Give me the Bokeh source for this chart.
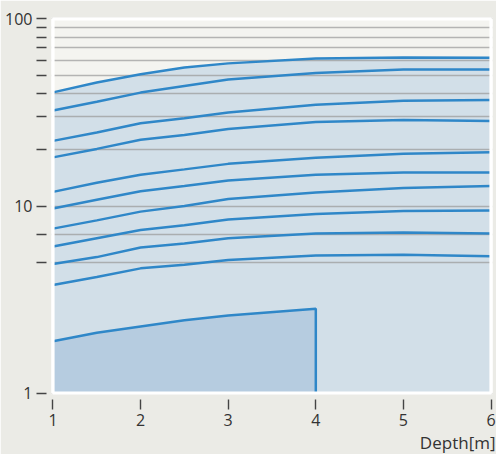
from bokeh.plotting import figure
from bokeh.models import FixedTicker, Title, PrintfTickFormatter, Range1d
from bokeh.embed import file_html
from bokeh.resources import INLINE

# data
depth = [1, 1.5, 2, 2.5, 3, 4, 5, 6]
c1 = [40.5, 45.8, 50.7, 55.0, 57.9, 61.5, 62.3, 62.0]
c2 = [32.4, 36.1, 40.4, 43.8, 47.5, 51.5, 53.7, 53.7]
c3 = [22.3, 24.7, 27.7, 29.5, 31.6, 34.8, 36.5, 36.9]
c4 = [18.2, 20.2, 22.6, 24.0, 25.8, 28.1, 28.8, 28.5]
c5 = [11.9, 13.3, 14.7, 15.7, 16.8, 18.1, 19.0, 19.4]
c6 = [9.7, 10.8, 12.0, 12.8, 13.7, 14.7, 15.1, 15.1]
c7 = [7.57, 8.38, 9.33, 10.0, 10.9, 11.8, 12.5, 12.8]
c8 = [6.07, 6.72, 7.44, 7.9, 8.46, 9.06, 9.4, 9.47]
c9 = [4.89, 5.33, 6.0, 6.3, 6.72, 7.12, 7.21, 7.12]
c10 = [3.78, 4.17, 4.64, 4.85, 5.14, 5.44, 5.48, 5.38]
low_depth = [1, 1.5, 2, 2.5, 3, 4]
low_curve = [1.89, 2.10, 2.27, 2.45, 2.6, 2.82]
low_floor = [1, 1, 1, 1, 1, 1]
curves = [c1, c2, c3, c4, c5, c6, c7, c8, c9, c10]

x_min, x_max = 1, 6
y_min, y_max = 1, 100
y_major = [1, 10, 100]
y_minor = [5, 7, 20, 30, 40, 50, 60, 70, 80, 90]
x_ticks = [1, 2, 3, 4, 5, 6]

FONT = "Open Sans"
TXT = "#333333"
BLUE = "#2f87c8"

p = figure(width=496, height=454, y_axis_type="log",
           x_range=Range1d(x_min - 0.017, x_max + 0.017),
           y_range=Range1d(y_min / 1.0186, y_max * 1.0186),
           output_backend="svg", toolbar_location=None,
           min_border_left=51, min_border_right=4, min_border_top=17, min_border_bottom=60)
p.background_fill_color = "#f4f4f0"
p.border_fill_color = "#ebebe6"
p.outline_line_color = None

# fills
r1 = p.varea(x=depth, y1=[y_min] * len(depth), y2=c1, fill_color="#d2dfe8")
r1.level = "image"
r2 = p.varea(x=low_depth, y1=low_floor, y2=low_curve, fill_color="#b6cce0")
r2.level = "image"

for c in curves:
    p.line(depth, c, line_color=BLUE, line_width=2.5)
p.line(low_depth + [low_depth[-1]], low_curve + [low_floor[-1]], line_color=BLUE, line_width=2.5)

# white frame border
rb = p.quad(left=[x_min], right=[x_max], bottom=[y_min], top=[y_max], fill_color=None,
            line_color="white", line_width=3.2)
rb.level = "overlay"

# grid
p.xgrid.visible = False
p.ygrid.ticker = FixedTicker(ticks=y_major, minor_ticks=y_minor)
p.ygrid.grid_line_color = "#999999"
p.ygrid.grid_line_alpha = 0.7
p.ygrid.grid_line_width = 1.3
p.ygrid.minor_grid_line_color = "#999999"
p.ygrid.minor_grid_line_alpha = 0.7
p.ygrid.minor_grid_line_width = 1.3

# axes
for ax in (p.xaxis[0], p.yaxis[0]):
    ax.axis_line_color = None
    ax.major_tick_in = -5
    ax.major_tick_out = 15
    ax.minor_tick_in = -5
    ax.minor_tick_out = 15
    ax.major_tick_line_color = "#444444"
    ax.minor_tick_line_color = "#444444"
    ax.major_tick_line_width = 1.4
    ax.minor_tick_line_width = 1.4
    ax.major_label_text_font = FONT
    ax.major_label_text_font_size = "16px"
    ax.major_label_text_color = TXT
    ax.major_label_standoff = 4

p.yaxis.ticker = FixedTicker(ticks=y_major, minor_ticks=y_minor)
p.yaxis.formatter = PrintfTickFormatter(format="%d")
p.xaxis.ticker = FixedTicker(ticks=x_ticks)
p.xaxis.minor_tick_line_color = None

p.add_layout(Title(text="Depth[m]", align="right", text_font=FONT, text_font_size="17px",
                   text_font_style="normal", text_color=TXT, standoff=0, offset=-3), "below")

open("out.html", "w").write(file_html(p, INLINE))
